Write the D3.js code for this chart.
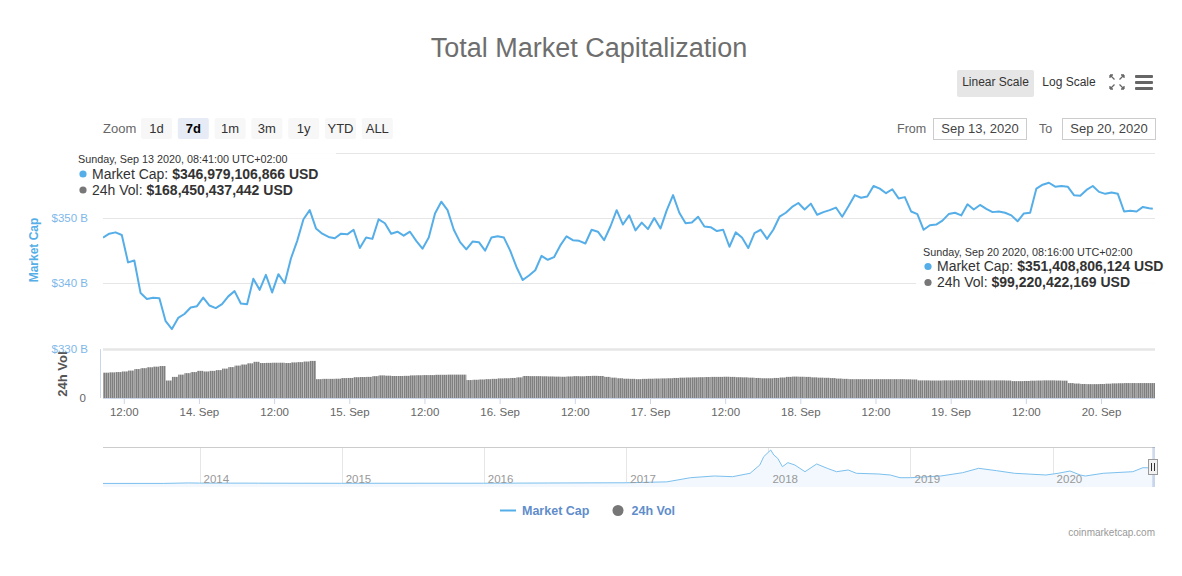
<!DOCTYPE html>
<html>
<head>
<meta charset="utf-8">
<title>Total Market Capitalization</title>
<script src="https://cdn.jsdelivr.net/npm/d3@7"></script>
<style>
  body { margin: 0; background: #fff; }
  text { font-family: "Liberation Sans", Arial, sans-serif; }
</style>
</head>
<body>
<script>
// ---- data ----
// hourly market cap in $B, first point Sep 13 2020 08:41 (UTC+02:00)
var capStart = "2020-09-13T08:41";
var capHourly = [
  347.0, 347.6, 347.8, 347.4, 343.2, 343.5, 338.5, 337.6, 337.8, 337.7,
  334.2, 333.0, 334.7, 335.3, 336.3, 336.5, 337.8, 336.6, 336.2, 336.8,
  338.0, 338.8, 336.9, 336.8, 340.7, 339.0, 341.3, 338.6, 341.4, 340.0,
  343.8, 346.5, 349.8, 351.2, 348.4, 347.6, 347.1, 346.9, 347.6, 347.5,
  348.2, 345.4, 347.0, 346.8, 349.8, 349.2, 347.6, 347.9, 347.3, 347.9,
  346.5, 345.3, 347.0, 350.7, 352.5, 351.2, 348.2, 346.3, 345.2, 346.4,
  346.3, 345.0, 347.0, 347.2, 347.0, 345.0, 342.5, 340.5, 341.2, 342.0,
  344.2, 343.6, 344.0, 345.8, 347.2, 346.6, 346.5, 346.1, 348.2, 347.9,
  346.6, 348.7, 351.2, 349.0, 350.4, 348.1, 349.3, 348.3, 350.0, 348.4,
  351.2, 353.5, 350.8, 349.2, 349.3, 350.2, 348.7, 348.6, 348.0, 348.2,
  345.6, 347.8, 347.0, 345.4, 347.7, 348.2, 346.8, 348.2, 350.2, 350.8,
  351.7, 352.3, 351.3, 352.2, 350.5, 350.9, 351.2, 351.6, 350.2, 351.8,
  353.5, 353.1, 353.3, 354.9, 354.5, 353.8, 354.4, 353.0, 353.2, 351.0,
  350.6, 348.2, 348.9, 349.0, 349.6, 350.6, 350.8, 350.4, 352.1, 351.3,
  352.0, 351.4, 350.9, 351.0, 350.8, 350.4, 349.5, 350.7, 350.8, 354.5,
  355.1, 355.4, 354.8, 354.9, 354.8, 353.5, 353.4, 354.3, 354.9, 354.0,
  353.7, 353.9, 353.7, 351.0, 351.1, 351.0, 351.7, 351.5
];
var capLastTime = "2020-09-20T08:16";
var capLast = 351.408806124;

// hourly 24h volume in $B, same hours
var volHourly = [
  168, 170, 172, 176, 182, 192, 198, 204, 208, 212,
  116, 140, 155, 165, 172, 180, 176, 180, 185, 195,
  205, 215, 222, 230, 240, 232, 233, 234, 234, 232,
  236, 238, 242, 246, 125, 127, 127, 128, 132, 133,
  138, 139, 140, 145, 150, 148, 146, 146, 147, 150,
  151, 152, 152, 154, 154, 155, 155, 155, 119, 121,
  123, 125, 127, 130, 131, 133, 137, 146, 145, 145,
  144, 143, 142, 141, 143, 145, 144, 146, 147, 146,
  140, 135, 131, 128, 127, 125, 127, 128, 129, 130,
  131, 133, 135, 136, 137, 138, 139, 140, 140, 141,
  140, 138, 137, 135, 133, 131, 131, 133, 136, 140,
  142, 141, 140, 137, 135, 134, 132, 129, 127, 125,
  125, 125, 125, 125, 125, 125, 125, 125, 124, 123,
  117, 117, 116, 116, 117, 117, 118, 118, 118, 117,
  117, 117, 117, 117, 116, 112, 112, 113, 115, 116,
  117, 117, 116, 115, 99, 96, 93, 92, 92, 93,
  95, 97, 98, 99, 99, 99, 99, 99
];

// navigator: whole history of total market cap, $B
var navDates = [
  "2013-04-28", "2013-10-01", "2013-12-04", "2014-01-01", "2014-06-01",
  "2015-01-01", "2016-01-01", "2016-06-15", "2017-01-01", "2017-04-15",
  "2017-06-15", "2017-08-15", "2017-10-01", "2017-11-15", "2017-12-10",
  "2017-12-20", "2018-01-07", "2018-01-15", "2018-01-25", "2018-02-06",
  "2018-02-20", "2018-03-10", "2018-04-05", "2018-05-05", "2018-06-01",
  "2018-06-25", "2018-07-25", "2018-08-15", "2018-10-10", "2018-11-10",
  "2018-12-05", "2019-01-01", "2019-03-20", "2019-05-15", "2019-06-25",
  "2019-08-10", "2019-09-25", "2019-12-15", "2020-01-15", "2020-02-15",
  "2020-03-12", "2020-03-25", "2020-05-10", "2020-07-25", "2020-08-20",
  "2020-09-20"
];
var navValues = [
  1.6, 2, 14, 10, 8,
  5, 7, 12, 18, 40,
  142, 184, 167, 250, 453,
  657, 820, 698, 617, 412,
  510, 453, 289, 478, 372,
  289, 331, 250, 233, 208,
  142, 142, 184, 265, 372,
  314, 250, 208, 250, 306,
  208, 184, 250, 289, 387,
  380
];
var navYears = [2014, 2015, 2016, 2017, 2018, 2019, 2020];

var capTicks = [330, 340, 350, 360];
var zoomButtons = ["1d", "7d", "1m", "3m", "1y", "YTD", "ALL"];
var selectedZoom = "7d";

var tipLeft = {
  head: "Sunday, Sep 13 2020, 08:41:00 UTC+02:00",
  cap: "$346,979,106,866 USD",
  vol: "$168,450,437,442 USD"
};
var tipRight = {
  head: "Sunday, Sep 20 2020, 08:16:00 UTC+02:00",
  cap: "$351,408,806,124 USD",
  vol: "$99,220,422,169 USD"
};

// ---- layout ----
var W = 1182, H = 576;
var plotLeft = 103, plotRight = 1155;
var capTop = 152.7, capBottom = 348.6;
var volTop = 349, volBottom = 398;
var navTop = 447, navBottom = 487;

var lineColor = "#55aee8";
var parse = d3.utcParse("%Y-%m-%dT%H:%M");
var parseDay = d3.utcParse("%Y-%m-%d");

var t0 = parse(capStart);
var capData = capHourly.map(function(v, i) { return {t: d3.utcHour.offset(t0, i), v: v}; });
capData.push({t: parse(capLastTime), v: capLast});
var volData = volHourly.map(function(v, i) { return {t: d3.utcHour.offset(t0, i), v: v}; });
var navData = navDates.map(function(d, i) { return {t: parseDay(d), v: navValues[i]}; });

var svg = d3.select("body").append("svg")
  .attr("width", W).attr("height", H);

var defs = svg.append("defs");
defs.append("clipPath").attr("id", "plotClip")
  .append("rect").attr("x", plotLeft).attr("y", 140)
  .attr("width", plotRight - plotLeft).attr("height", 270);
var pat = defs.append("pattern").attr("id", "volStripes")
  .attr("patternUnits", "userSpaceOnUse").attr("width", 2).attr("height", 10);
pat.append("rect").attr("width", 2).attr("height", 10).attr("fill", "#b8b8b8");
pat.append("rect").attr("width", 1.3).attr("height", 10).attr("fill", "#7f7f7f");

// scales
var x = d3.scaleUtc()
  .domain([t0, parse("2020-09-20T08:37")])
  .range([plotLeft, plotRight]);
var y = d3.scaleLinear().domain([330, 360]).range([capBottom, capTop]);
var yVol = d3.scaleLinear().domain([0, 325]).range([volBottom, volTop]);
var xNav = d3.scaleUtc()
  .domain([parseDay("2013-04-28"), parseDay("2020-09-20")])
  .range([plotLeft, plotRight]);
var yNav = d3.scaleLinear().domain([0, 830]).range([483.5, 449.6]);

// title
svg.append("text")
  .attr("x", 589).attr("y", 56.5)
  .attr("text-anchor", "middle")
  .attr("fill", "#6e6e6e").style("font-size", "27px")
  .text("Total Market Capitalization");

// linear / log scale + icons
svg.append("rect").attr("x", 957).attr("y", 70).attr("width", 77).attr("height", 27)
  .attr("rx", 2).attr("fill", "#e6e6e6");
svg.append("text").attr("x", 995.5).attr("y", 86).attr("text-anchor", "middle")
  .attr("fill", "#333").style("font-size", "12px").text("Linear Scale");
svg.append("text").attr("x", 1069).attr("y", 86).attr("text-anchor", "middle")
  .attr("fill", "#333").style("font-size", "12px").text("Log Scale");

var fs = svg.append("g").attr("stroke", "#666").attr("stroke-width", 1.3).attr("fill", "none");
[[1110, 75, 1, 1], [1124, 75, -1, 1], [1110, 89, 1, -1], [1124, 89, -1, -1]].forEach(function(c) {
  fs.append("path").attr("d",
    "M" + c[0] + "," + c[1] + "L" + (c[0] + 4.5 * c[2]) + "," + (c[1] + 4.5 * c[3]) +
    "M" + c[0] + "," + c[1] + "l" + (3 * c[2]) + ",0" +
    "M" + c[0] + "," + c[1] + "l0," + (3 * c[3]));
});
[76.5, 82.5, 88.5].forEach(function(yy) {
  svg.append("rect").attr("x", 1135).attr("y", yy - 1.5).attr("width", 18).attr("height", 3)
    .attr("rx", 1).attr("fill", "#666");
});

// range selector
svg.append("text").attr("x", 103).attr("y", 132.5).attr("fill", "#666")
  .style("font-size", "13px").text("Zoom");
var btn = svg.append("g").selectAll("g").data(zoomButtons).join("g")
  .attr("transform", function(d, i) { return "translate(" + (141 + i * 36.8) + ",118)"; });
btn.append("rect").attr("width", 31).attr("height", 21).attr("rx", 2)
  .attr("fill", function(d) { return d === selectedZoom ? "#e6ebf5" : "#f7f7f7"; });
btn.append("text").attr("x", 15.5).attr("y", 14.5).attr("text-anchor", "middle")
  .attr("fill", function(d) { return d === selectedZoom ? "#000" : "#333"; })
  .style("font-size", "13px")
  .style("font-weight", function(d) { return d === selectedZoom ? "bold" : "normal"; })
  .text(function(d) { return d; });

svg.append("text").attr("x", 897).attr("y", 132.5).attr("fill", "#666")
  .style("font-size", "12.5px").text("From");
svg.append("text").attr("x", 1039).attr("y", 132.5).attr("fill", "#666")
  .style("font-size", "12.5px").text("To");
[[933.5, "Sep 13, 2020"], [1062.5, "Sep 20, 2020"]].forEach(function(b) {
  svg.append("rect").attr("x", b[0]).attr("y", 118.5).attr("width", 93).attr("height", 21)
    .attr("fill", "#fff").attr("stroke", "#ccc");
  svg.append("text").attr("x", b[0] + 46.5).attr("y", 133).attr("text-anchor", "middle")
    .attr("fill", "#444").style("font-size", "13px").text(b[1]);
});

// grid lines of the market cap pane
svg.append("g").selectAll("line").data(capTicks).join("line")
  .attr("x1", plotLeft).attr("x2", plotRight)
  .attr("y1", function(d) { return Math.round(y(d)) + 0.5; })
  .attr("y2", function(d) { return Math.round(y(d)) + 0.5; })
  .attr("stroke", "#e6e6e6")
  .attr("stroke-width", function(d) { return d === 330 ? 2.5 : 1; });

// market cap axis labels
svg.append("g").selectAll("text").data(capTicks.slice(0, 3)).join("text")
  .attr("x", 88).attr("y", function(d) { return y(d) + 4; })
  .attr("text-anchor", "end").attr("fill", "#7db8ea")
  .style("font-size", "11.5px")
  .text(function(d) { return "$" + d + " B"; });
svg.append("text")
  .attr("transform", "translate(38,250) rotate(-90)")
  .attr("text-anchor", "middle").attr("fill", lineColor)
  .style("font-size", "12px").style("font-weight", "bold")
  .text("Market Cap");

// volume pane axis
svg.append("line").attr("x1", 100.5).attr("x2", 100.5).attr("y1", volTop).attr("y2", volBottom)
  .attr("stroke", "#ccd6eb");
svg.append("text").attr("x", 86).attr("y", volBottom + 3.5)
  .attr("text-anchor", "end").attr("fill", "#666").style("font-size", "11.5px").text("0");
svg.append("text")
  .attr("transform", "translate(67,374) rotate(-90)")
  .attr("text-anchor", "middle").attr("fill", "#555")
  .style("font-size", "13px").style("font-weight", "bold")
  .text("24h Vol");

// volume bars
svg.append("g").attr("clip-path", "url(#plotClip)")
  .selectAll("rect").data(volData).join("rect")
  .attr("x", function(d) { return x(d.t); })
  .attr("width", function(d) { return x(d3.utcHour.offset(d.t, 1)) - x(d.t); })
  .attr("y", function(d) { return yVol(d.v); })
  .attr("height", function(d) { return yVol(0) - yVol(d.v); })
  .attr("fill", "url(#volStripes)");

// x axis
var xAxis = d3.axisBottom(x)
  .ticks(d3.utcHour.every(12))
  .tickSize(6)
  .tickFormat(function(d) {
    return d.getUTCHours() === 0 ? d3.utcFormat("%-d. %b")(d) : d3.utcFormat("%H:%M")(d);
  });
var gx = svg.append("g").attr("transform", "translate(0," + volBottom + ")").call(xAxis);
gx.select(".domain").attr("stroke", "#ccd6eb").attr("d", "M" + plotLeft + ",0.5H" + plotRight);
gx.selectAll(".tick line").attr("stroke", "#ccd6eb");
gx.selectAll(".tick text").attr("fill", "#666").attr("dy", "0.71em").attr("y", 10)
  .style("font-size", "11.5px").style("font-family", "'Liberation Sans', Arial, sans-serif");

// market cap line
svg.append("path").datum(capData)
  .attr("clip-path", "url(#plotClip)")
  .attr("fill", "none").attr("stroke", lineColor).attr("stroke-width", 2)
  .attr("stroke-linejoin", "round")
  .attr("d", d3.line().x(function(d) { return x(d.t); }).y(function(d) { return y(d.v); }));

// navigator
var nav = svg.append("g");
nav.selectAll("line.yr").data(navYears).join("line").attr("class", "yr")
  .attr("x1", function(d) { return Math.round(xNav(Date.UTC(d, 0, 1))) + 0.5; })
  .attr("x2", function(d) { return Math.round(xNav(Date.UTC(d, 0, 1))) + 0.5; })
  .attr("y1", navTop).attr("y2", navBottom).attr("stroke", "#e6e6e6");
nav.append("path").datum(navData)
  .attr("fill", "#f2f8fd")
  .attr("d", d3.area().x(function(d) { return xNav(d.t); })
    .y0(navBottom).y1(function(d) { return yNav(d.v); }));
nav.append("path").datum(navData)
  .attr("fill", "none").attr("stroke", "#7cc0ee").attr("stroke-width", 1)
  .attr("d", d3.line().x(function(d) { return xNav(d.t); }).y(function(d) { return yNav(d.v); }));
nav.selectAll("text").data(navYears).join("text")
  .attr("x", function(d) { return xNav(Date.UTC(d, 0, 1)) + 4; })
  .attr("y", 483).attr("fill", "#999").style("font-size", "11.5px")
  .text(function(d) { return d; });
nav.append("line").attr("x1", plotLeft).attr("x2", plotRight)
  .attr("y1", navTop + 0.5).attr("y2", navTop + 0.5).attr("stroke", "#ccc");
// selected range mask and handle (last week)
var selStart = xNav(parseDay("2020-09-13"));
nav.append("rect").attr("x", selStart).attr("y", navTop)
  .attr("width", plotRight - selStart).attr("height", navBottom - navTop)
  .attr("fill", "rgba(102,133,194,0.3)");
nav.append("rect").attr("x", 1148.5).attr("y", 459.5).attr("width", 9).attr("height", 15)
  .attr("fill", "#f2f2f2").attr("stroke", "#999");
[1151.5, 1154.5].forEach(function(hx) {
  nav.append("line").attr("x1", hx).attr("x2", hx).attr("y1", 463).attr("y2", 471)
    .attr("stroke", "#333");
});

// tooltips
function tooltip(tip, bx, by, bw, bh, tx, ty) {
  var g = svg.append("g");
  g.append("rect").attr("x", bx).attr("y", by).attr("width", bw).attr("height", bh)
    .attr("fill", "rgba(255,255,255,0.92)");
  g.append("text").attr("x", tx).attr("y", ty).attr("fill", "#333")
    .style("font-size", "10.8px").text(tip.head);
  [["Market Cap: ", tip.cap, lineColor], ["24h Vol: ", tip.vol, "#777"]].forEach(function(r, i) {
    var yy = ty + 15.5 + i * 16;
    g.append("circle").attr("cx", tx + 5).attr("cy", yy - 4.5).attr("r", 3.6).attr("fill", r[2]);
    var t = g.append("text").attr("x", tx + 14).attr("y", yy).attr("fill", "#333")
      .style("font-size", "14px");
    t.append("tspan").text(r[0]);
    t.append("tspan").style("font-weight", "bold").text(r[1]);
  });
}
tooltip(tipLeft, 74, 146, 262, 54, 78, 163);
tooltip(tipRight, 916, 240, 262, 52, 923, 255.5);

// legend
var lg = svg.append("g");
lg.append("line").attr("x1", 500).attr("x2", 516).attr("y1", 510.5).attr("y2", 510.5)
  .attr("stroke", lineColor).attr("stroke-width", 2);
lg.append("text").attr("x", 522).attr("y", 515).attr("fill", "#5f8dcb")
  .style("font-size", "12.5px").style("font-weight", "bold").text("Market Cap");
lg.append("circle").attr("cx", 618).attr("cy", 510.5).attr("r", 5.5).attr("fill", "#777");
lg.append("text").attr("x", 631.5).attr("y", 515).attr("fill", "#5f8dcb")
  .style("font-size", "12.5px").style("font-weight", "bold").text("24h Vol");

// credits
svg.append("text").attr("x", 1155).attr("y", 535.5).attr("text-anchor", "end")
  .attr("fill", "#999").style("font-size", "10px").text("coinmarketcap.com");
</script>
</body>
</html>
